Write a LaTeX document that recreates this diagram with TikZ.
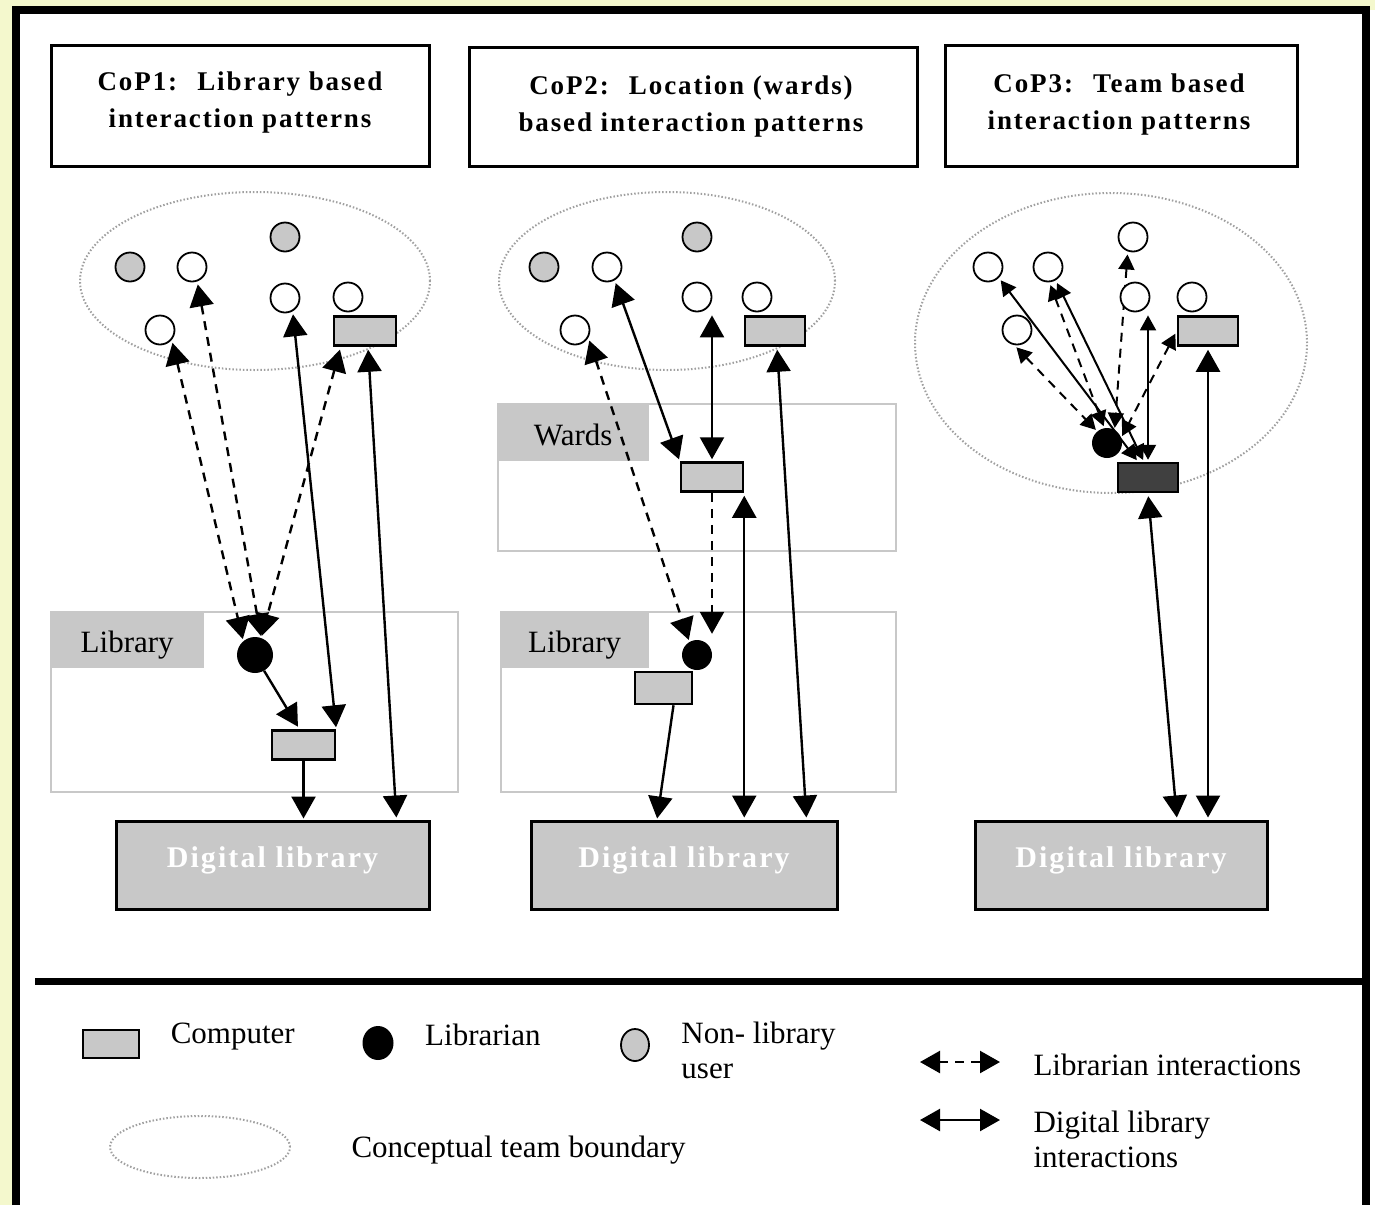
\documentclass[tikz,border=0pt]{standalone}
\usepackage{fontspec}
\setmainfont{Liberation Serif}
\newfontfamily\spaced[LetterSpace=7]{Liberation Serif}
\usetikzlibrary{arrows.meta, positioning, shapes.geometric}

\definecolor{paper}{HTML}{F4F8CD}
\definecolor{boxgray}{HTML}{C8C8C8}
\definecolor{dotgray}{HTML}{A0A0A0}
\definecolor{darkpc}{HTML}{404040}

\pgfdeclarelayer{bg}
\pgfdeclarelayer{links}
\pgfsetlayers{bg,links,main}

\begin{document}
\begin{tikzpicture}[
  x=1pt, y=-1pt,
  >={Triangle[length=22pt, width=24pt]},
  title/.style     = {draw, line width=3pt, inner sep=0pt},
  titletext/.style = {align=center, font={\spaced\bfseries\fontsize{27}{37}\selectfont}},
  team/.style      = {ellipse, draw=dotgray, line width=2pt, dash pattern=on 1.5pt off 2pt, inner sep=0pt},
  area/.style      = {draw=boxgray, line width=2pt, inner sep=0pt},
  arealabel/.style = {fill=boxgray, inner sep=0pt, anchor=north west, text height=28pt, text depth=2pt,
                      font=\fontsize{31}{36}\selectfont},
  user/.style      = {circle, draw, line width=1.8pt, fill=white, minimum size=29pt, inner sep=0pt},
  nonuser/.style   = {user, fill=boxgray},
  librarian/.style = {circle, fill=black, minimum size=32pt, inner sep=0pt},
  pc/.style        = {draw, line width=2.5pt, fill=boxgray, minimum width=60pt, minimum height=29pt, inner sep=0pt},
  diglib/.style    = {draw, line width=3pt, fill=boxgray, minimum height=88pt, inner sep=0pt,
                      text height=20pt, text depth=16pt,
                      text=white, font={\spaced\bfseries\fontsize{30}{36}\selectfont}},
  dli/.style       = {<->, line width=2.4pt, shorten >=2pt, shorten <=3pt},
  lii/.style       = {dli, dash pattern=on 9pt off 7pt},
  link/.style      = {->, line width=2.4pt, shorten >=1pt},
  linkdash/.style  = {link, dash pattern=on 9pt off 7pt},
  legtext/.style   = {align=left, font=\fontsize{31}{35}\selectfont}
]

\useasboundingbox (0,0) rectangle (1375,1205);

%--------------------------------------------------
% Page, frame and separator
%--------------------------------------------------
\begin{pgfonlayer}{bg}
\fill[paper] (0,0) rectangle (1375,1205);
\fill[white] (16,10) rectangle (1375,1205);
\draw[line width=8pt] (16,1205) -- (16,10) -- (1366,10) -- (1366,1205);
\draw[line width=7pt] (35,981) -- (1366,981);

% team boundaries
\node[team, minimum width=350pt, minimum height=178pt] (team1) at (255,281) {};
\node[team, minimum width=336pt, minimum height=178pt] (team2) at (667,281) {};
\node[team, minimum width=392pt, minimum height=300pt] (team3) at (1111,343) {};

% locations
\node[area, minimum width=407pt, minimum height=180pt] (library1) at (254.5,702) {};
\node[arealabel, minimum width=154pt, minimum height=57pt] (library1lbl) at (library1.north west) {Library};
\node[area, minimum width=398pt, minimum height=147pt] (wards) at (697,477.5) {};
\node[arealabel, minimum width=152pt, minimum height=58pt] (wardslbl) at (wards.north west) {Wards\hspace{20pt}};
\node[area, minimum width=395pt, minimum height=180pt] (library2) at (698.5,702) {};
\node[arealabel, minimum width=149pt, minimum height=57pt] (library2lbl) at (library2.north west) {Library};
\end{pgfonlayer}

%--------------------------------------------------
% Titles
%--------------------------------------------------
\node[title, minimum width=378pt, minimum height=121pt] (cop1) at (240,105.5) {};
\node[titletext] (cop1txt) at (240,103) {CoP1:~ Library based\\interaction patterns};
\node[title, minimum width=448pt, minimum height=119pt] (cop2) at (693,106.5) {};
\node[titletext] (cop2txt) at (691,107) {CoP2:~ Location (wards)\\based interaction patterns};
\node[title, minimum width=352pt, minimum height=121pt] (cop3) at (1121,105.5) {};
\node[titletext] (cop3txt) at (1119,105) {CoP3:~ Team based\\interaction patterns};

%--------------------------------------------------
% CoP1
%--------------------------------------------------
\node[nonuser] (g11) at (130,267) {};
\node[nonuser] (g12) at (285,237) {};
\node[user] (u11) at (192,267) {};
\node[user] (u12) at (160,330) {};
\node[user] (u13) at (285,298) {};
\node[user] (u14) at (348,297) {};
\node[pc, minimum width=62pt] (pc11) at (365,331) {};
\node[librarian, minimum width=36pt] (librarian1) at (255,655) {};
\node[pc, minimum width=63pt] (pc12) at (303.5,745) {};
\node[diglib, minimum width=313pt] (diglib1) at (272.5,865) {Digital library};

%--------------------------------------------------
% CoP2
%--------------------------------------------------
\node[nonuser] (g21) at (544,267) {};
\node[nonuser] (g22) at (697,237) {};
\node[user] (u21) at (607,267) {};
\node[user] (u22) at (575,330) {};
\node[user] (u23) at (697,297) {};
\node[user] (u24) at (757,297) {};
\node[pc] (pc21) at (775,331) {};
\node[pc, minimum width=62pt] (pcw) at (712,477) {};
\node[librarian, minimum size=30pt] (librarian2) at (697,655) {};
\node[pc, minimum width=57pt, minimum height=32pt] (pc22) at (663.5,688) {};
\node[diglib, minimum width=306pt] (diglib2) at (684,865) {Digital library};

%--------------------------------------------------
% CoP3
%--------------------------------------------------
\node[user] (u31) at (988,267) {};
\node[user] (u32) at (1048,267) {};
\node[user] (u33) at (1133,237) {};
\node[user] (u34) at (1017,330) {};
\node[user] (u35) at (1135,297) {};
\node[user] (u36) at (1192,297) {};
\node[pc] (pc31) at (1208,331) {};
\node[librarian, minimum size=30pt] (librarian3) at (1107,443) {};
\node[pc, fill=darkpc] (pc32) at (1148,477.5) {};
\node[diglib, minimum width=292pt] (diglib3) at (1121,865) {Digital library};

%--------------------------------------------------
% Interactions
%--------------------------------------------------
\begin{pgfonlayer}{links}
% CoP1
\draw[lii] (u12.-40) -- (librarian1.130);
\draw[lii] (u11.-70) -- (librarian1.70);
\draw[lii] ([xshift=8pt]pc11.south west) -- (librarian1.70);
\draw[dli] (u13.-60) -- (pc12.north east);
\draw[dli] ([xshift=3pt]pc11.south) -- ([xshift=-34pt]diglib1.north east);
\draw[link, shorten >=3pt] (librarian1.-60) -- ([xshift=-4pt]pc12.north);
\draw[link] (pc12.south) -- (pc12.south |- diglib1.north);

% CoP2
\draw[lii] (u22.-30) -- (librarian2.120);
\draw[dli] (u21.-60) -- (pcw.north west);
\draw[dli] (pcw.north |- u23.south) -- (pcw.north);
\draw[dli] ([xshift=2pt]pc21.south) -- ([xshift=-32pt]diglib2.north east);
\draw[linkdash, shorten >=6pt] (pcw.south) -- (pcw.south |- librarian2.north);
\draw[dli] (pcw.south east) -- (pcw.south east |- diglib2.north);
\draw[link] ([xshift=10pt]pc22.south) -- ([xshift=-27pt]diglib2.north);

% CoP3
\begin{scope}[>={Triangle[length=15pt, width=16pt]}]
\draw[dli, line width=2pt] (u31.-45) -- ([xshift=-10pt]pc32.north);
\draw[lii, line width=2pt] (u34.-100) -- (librarian3.130);
\draw[dli, line width=2pt] (u32.-60) -- ([xshift=-4pt]pc32.north);
\draw[lii, line width=2pt] (u32.-85) -- (librarian3.100);
\draw[lii, line width=2pt] (u33.-110) -- (librarian3.60);
\draw[dli, line width=2pt] (pc32.north |- u35.south) -- (pc32.north);
\draw[lii, line width=2pt] (pc31.west) -- (librarian3.20);
\end{scope}
\draw[dli] (pc31.south) -- (pc31.south |- diglib3.north);
\draw[dli] (pc32.south) -- ([xshift=56pt]diglib3.north);
\end{pgfonlayer}

%--------------------------------------------------
% Legend
%--------------------------------------------------
\node[pc, minimum width=56pt, minimum height=28pt] (legpc) at (111,1044) {};
\node[legtext, right=27pt of legpc, yshift=7pt] (legpctxt) {Computer};
\node[ellipse, fill=black, minimum width=31pt, minimum height=34pt, inner sep=0pt] (leglib) at (378,1043) {};
\node[legtext, right=28pt of leglib, yshift=8pt] (leglibtxt) {Librarian};
\node[ellipse, draw, line width=1.8pt, fill=boxgray, minimum width=28pt, minimum height=32pt, inner sep=0pt] (legnon) at (635,1045) {};
\node[legtext, right=28pt of legnon, yshift=-5pt] (legnontxt) {Non- library\\user};
\node[team, minimum width=180pt, minimum height=62pt] (legteam) at (200,1147) {};
\node[legtext, right=57pt of legteam, yshift=-3pt] (legteamtxt) {Conceptual team boundary};

\coordinate (legli1) at (920,1062);
\coordinate (legli2) at (1000,1062);
\draw[lii, shorten >=0pt, shorten <=0pt, >={Triangle[length=20pt, width=22pt]}] (legli1) -- (legli2);
\node[legtext, right=30pt of legli2, yshift=-3pt] (leglitxt) {Librarian interactions};
\coordinate (legdl1) at (920,1120);
\coordinate (legdl2) at (1000,1120);
\draw[dli, shorten >=0pt, shorten <=0pt, >={Triangle[length=20pt, width=22pt]}] (legdl1) -- (legdl2);
\node[legtext, right=30pt of legdl2, yshift=-19pt] (legdltxt) {Digital library\\interactions};

\end{tikzpicture}
\end{document}
